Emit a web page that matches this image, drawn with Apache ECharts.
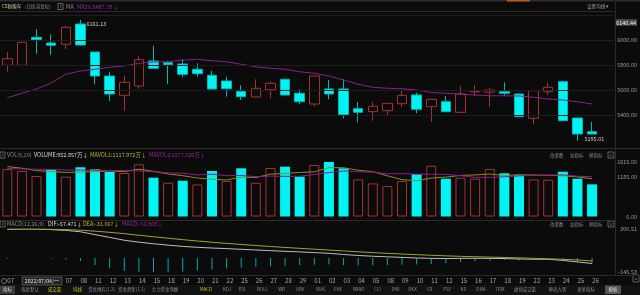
<!DOCTYPE html>
<html><head><meta charset="utf-8">
<script src="https://cdn.jsdelivr.net/npm/echarts@6/dist/echarts.min.js"></script>
<style>html,body{margin:0;padding:0;background:#0b0b0b;}#c{width:640px;height:295px;}</style>
</head><body><div id="c"></div>
<script>
// ---------- data ----------
const dates = ['2022-07-01','2022-07-04','2022-07-05','2022-07-06','2022-07-07','2022-07-08','2022-07-11','2022-07-12','2022-07-13','2022-07-14','2022-07-15','2022-07-18','2022-07-19','2022-07-20','2022-07-21','2022-07-22','2022-07-25','2022-07-26','2022-07-27','2022-07-28','2022-07-29',
'2022-08-01','2022-08-02','2022-08-03','2022-08-04','2022-08-05','2022-08-08','2022-08-09','2022-08-10','2022-08-11','2022-08-12','2022-08-15','2022-08-16','2022-08-17','2022-08-18','2022-08-19','2022-08-22','2022-08-23','2022-08-24','2022-08-25','2022-08-26'];
const opens  = [5797.6,5797.6,6021.6,5976,5965.6,6128,5904,5712,5557.6,5632,5832,5818.4,5808,5765.6,5717.6,5672,5589.6,5544,5602.4,5685.6,5573.6,5488,5608,5608,5450.4,5426.4,5434.4,5490.4,5560,5466.4,5506.4,5421.6,5586,5584,5586.4,5568,5373.6,5586.4,5666.4,5376,5266.4];
const closes = [5850,5981.6,6002.4,5957.6,6101.6,5960,5712,5568,5661.6,5842.4,5773.6,5802.4,5725.6,5730.4,5608,5610.4,5546.4,5613.6,5653.6,5560,5506.4,5712,5568,5402.4,5421.6,5469.6,5493.6,5557.6,5445.6,5525.6,5426.4,5568,5589.6,5600,5573.6,5386.4,5594.4,5621.6,5354.4,5248,5248];
const lows   = [5746,5795,5890,5882,5928,5954,5645.6,5512,5434,5610,5773.6,5648,5701.6,5706.4,5608,5546.4,5520,5538.4,5533.6,5554.4,5488,5469,5525.6,5373.6,5341.6,5354.4,5400,5464,5413.6,5346.4,5426.4,5421.6,5552,5466.4,5554.4,5386.4,5325.6,5560,5350,5195.01,5248];
const highs  = [5901.6,5985,6088,6045.6,6114,6161.13,5904,5746,5714,5874,5954,5834,5848,5813.6,5754,5706.4,5637.6,5685.6,5669.6,5693.6,5605.6,5712,5680,5685.6,5504,5504,5493.6,5594.4,5578.4,5525.6,5552,5632,5640,5613.6,5661.6,5568,5600,5658.4,5674,5376,5346.4];
const ma20   = [5538,5574,5608,5656,5726,5752,5766,5782,5792,5814,5824,5826,5838,5846,5834,5826,5806,5786,5774,5766,5746,5734,5712,5680,5646,5622,5614,5610,5600,5580,5574,5568,5560,5554,5554,5552,5542,5528,5520,5506,5487.78];
const volumes = [1407,1348,1200,1398,1180,1458,1398,1319,1289,1547,1150,1000,1060,950,1348,1050,1428,1000,1437,1476,1180,1526,1615,1428,1100,980,900,1050,1259,1505,1120,1150,1120,1407,1280,1228,1100,1090,1327,1120,952.857];
const volUp   = [1,1,1,0,1,0,0,0,1,1,0,1,0,1,0,1,0,1,1,0,0,1,0,0,1,1,1,1,0,1,0,1,1,1,0,0,1,1,0,0,0];
const mavol1  = [1480,1430,1360,1330,1307,1317,1327,1351,1329,1402,1341,1261,1209,1141,1102,1082,1167,1155,1253,1278,1304,1324,1447,1445,1370,1330,1205,1092,1058,1139,1167,1217,1231,1260,1215,1237,1227,1221,1205,1173,1117.972];
const mavol2  = [1420,1410,1400,1390,1380,1375,1370,1365,1360,1354,1329,1294,1280,1235,1252,1211,1214,1182,1197,1190,1193,1246,1301,1349,1324,1317,1264,1269,1251,1254,1248,1211,1161,1159,1177,1202,1222,1226,1233,1194,1177.526];
const dif  = [296,300.51,300,294,286,272,242,213,184,164,147.2,133,120,111,103,97,90,83,76,69,63,56,48,36,26,18,12,6,0,-4,-6,-4,-3,-4,-6,-11,-13,-13,-25,-41,-57.471];
const dea  = [300,300,300,298,294,288,278,266,252,236,220,205,190,176,163,151,140,129,119,109,100,91,82,73,64,56,48,41,34,28,22,17,13,9,5,1,-4,-9,-14,-21,-31.067];
const macd = [-8,0,0,-8,-16,-32,-72,-106,-136,-144,-145.53,-144,-140,-130,-120,-108,-100,-92,-86,-80,-74,-70,-68,-74,-76,-76,-72,-70,-68,-64,-56,-42,-32,-26,-22,-24,-18,-8,-22,-40,-52.808];
const priceTicks = [5400,5600,5800,6000];
const priceHighlight = 6140.44;
const priceGrid = [5400,5600,5800,6000,6200];
const volTicks = [0,1185,1615];
const macdTicks = [-145.53,300.51];
const tabs = ['指标','恢复默认','成交量','均线','资金博弈[1.2]','资金趋势[1.2]','主力资金净额','MACD','KDJ','RSI','BOLL','WR','OBV','BIAS','ENE','BRAR','CCI','DMI','DKX','CR','PSY','KD','DMA','TRIX','虚拟成交量','神奇九转','更多指标','模板'];
const tabOn = ['成交量','均线','MACD'];

// ---------- styles ----------
const F = '"Noto Sans CJK SC","Noto Sans",sans-serif';
const RED = '#a33333', CYAN = '#00f4f4', TEAL = '#00aaaa';
const YEL = '#bdb52a', MAG = '#a020a0', GRAY = '#8c8c8c';
const tabX = [7.5,30,54.5,77.5,101.5,131.5,165,206,227,242,262.5,281.5,300,321,338,358.5,377.5,395.5,412.5,429.5,447,463.5,481,500,525,557.5,586,613];

const cats = dates.concat(['']);
const candle = opens.map((o,i)=>[o, closes[i], lows[i], highs[i]]);
const volData = volumes.map((v,i)=>({value:v, itemStyle: volUp[i]
  ? {color:'rgba(0,0,0,0)', borderColor:RED, borderWidth:1}
  : {color:CYAN, borderWidth:0}}));

function txt(x,y,s,color,size,align){
  return {type:'text', x:x, y:y, z:100, style:{text:s, fill:color, font:(size||5.5)+'px '+F, textAlign:align||'left', textVerticalAlign:'middle'}};
}
function rect(x,y,w,h,fill,stroke){
  return {type:'rect', z:90, shape:{x:x,y:y,width:w,height:h}, style:{fill:fill||'none', stroke:stroke||null, lineWidth:0.8}};
}
function hline(y,x1,x2,c){return {type:'line', z:95, shape:{x1:x1,y1:y,x2:x2,y2:y}, style:{stroke:c||'#2a2a2a', lineWidth:1}};}
function qbox(x,y){return [rect(x,y-3,5,6,'none','#777'), txt(x+2.5,y,'?','#aaa',4.5,'center')];}
function rightTools(y){return [txt(550,y,'改参数',GRAY,4.5),txt(570,y,'加指标',GRAY,4.5),txt(589,y,'换指标',GRAY,4.5),rect(608,y-3,6,6,'none','#777'),txt(611,y,'×','#999',5,'center')];}

const graphics = [
  rect(0,0,640,1.5,'#2c2c2c'), rect(507,0,23,1.5,'#c0581c'),
  hline(11.5,0,615), hline(148.5,0,640), hline(220.5,0,615), hline(275.5,0,640),
  {type:'line', z:95, shape:{x1:615.5,y1:2,x2:615.5,y2:276}, style:{stroke:'#2a2a2a', lineWidth:1}},
  txt(2,6.5,'CS新能车','#e6dba2',4.6), txt(25,6.5,'(日线,前复权)',GRAY,4.3),
  ...qbox(58,6.5), txt(66,6.5,'MA',GRAY,5.5), txt(77,6.5,'MA20:5487.78 ↓',MAG,5.5),
  txt(587,6.5,'设置均线 ▾','#9a9a9a',4.6),
  ...qbox(0,155), txt(7,155,'VOL(5,10)',GRAY,5.5), txt(34,155,'VOLUME:952.857万↓','#dcdcdc',5.5),
  txt(90,155,'MAVOL1:1117.972万↓',YEL,5.5), txt(149,155,'MAVOL2:1177.526万↓',MAG,5.5),
  ...rightTools(155),
  ...qbox(0,224), txt(7,224,'MACD(12,26,9)',GRAY,5.5), txt(48,224,'DIF:-57.471↓','#dcdcdc',5.5),
  txt(83,224,'DEA:-31.067↓',YEL,5.5), txt(122,224,'MACD:-52.808↓',MAG,5.5),
  ...rightTools(224),
  rect(0,285,640,10,'#121212'),
  {type:'circle', z:95, shape:{cx:4,cy:281,r:2.5}, style:{fill:'none', stroke:'#888', lineWidth:0.8}},
  rect(22,277,40,8,'#262626','#5a5a5a'), txt(42,281,'2022/07/04/一','#e0e0e0',5.2,'center'),
  rect(0,285.5,15,8.5,'#3c3c3c'), rect(605,285.5,16,8.5,'#555555'),
  rect(633,275,6,7,'none','#777'), txt(636,278.5,'»','#aaa',5,'center')
];
tabs.forEach((t,i)=>{ graphics.push(txt(tabX[i],289.5,t, tabOn.includes(t)?'#d7c61c':(t==='指标'||t==='模板'?'#ddd':GRAY),4.4,'center')); });

const yLab = {fontSize:5.5, fontFamily:F, color:'#9a9a9a', align:'right', margin:23};
const hidden = {show:false};

const option = {
  backgroundColor:'#0b0b0b',
  animation:false,
  grid:[
    {left:-1, right:25, top:14, height:133},
    {left:-1, right:25, top:158, height:58.5},
    {left:-1, right:25, top:229, height:43}
  ],
  xAxis:[0,1,2].map(g=>({
    type:'category', gridIndex:g, data:cats, boundaryGap:true,
    axisLine:hidden, axisTick:hidden, splitLine:hidden,
    axisLabel: g<2 ? hidden : {show:true, interval:0, align:'left', margin:6, fontSize:6, fontFamily:F, color:'#a8a8a8',
      formatter:(v,i)=> i===0 ? v.slice(5,7) : (i<4 || !v) ? '' : v.slice(8)}
  })),
  yAxis:[
    {type:'value', gridIndex:0, position:'right', min:5144, max:6208, axisLine:hidden, axisTick:hidden, splitLine:hidden,
     axisLabel:Object.assign({}, yLab, {customValues: priceTicks.concat([priceHighlight]),
       formatter:v=> Math.abs(v-priceHighlight)<0.001 ? '{hl|'+v.toFixed(2)+'}' : v.toFixed(2),
       rich:{hl:{backgroundColor:'#4a4a4a', color:'#e8e8e8', fontSize:5.5, fontFamily:F, padding:[1,1,0,1]}}})},
    {type:'value', gridIndex:1, position:'right', min:0, max:1733.5, axisLine:hidden, axisTick:hidden, splitLine:hidden,
     axisLabel:Object.assign({}, yLab, {customValues: volTicks, formatter:v=>v.toFixed(2)})},
    {type:'value', gridIndex:2, position:'right', min:-145.53, max:300.51, axisLine:hidden, axisTick:hidden, splitLine:hidden,
     axisLabel:Object.assign({}, yLab, {customValues: macdTicks, formatter:v=>v.toFixed(2)})}
  ],
  series:[
    {type:'candlestick', xAxisIndex:0, yAxisIndex:0, data:candle, barWidth:10,
     itemStyle:{color:'rgba(0,0,0,0)', color0:CYAN, borderColor:RED, borderColor0:'#00b8b8', borderWidth:1},
     markLine:{silent:true, symbol:'none', label:hidden, animation:false,
       lineStyle:{color:'#1d1d1d', type:'solid', width:1},
       data: priceGrid.map(v=>({yAxis:v}))},
     markPoint:{symbol:'circle', symbolSize:0, animation:false,
       label:{show:true, position:'right', color:'#d0d0d0', fontSize:5.5, fontFamily:F, formatter:p=>p.value.toFixed(2)},
       data:[
         {coord:[5, highs[5]], value:highs[5], label:{distance:6, offset:[0,4]}},
         {coord:[39, lows[39]], value:lows[39], label:{distance:7, offset:[0,-1.5]}}
       ]}
    },
    {type:'line', xAxisIndex:0, yAxisIndex:0, data:ma20, symbol:'none', lineStyle:{color:'#8a1e8a', width:1}, z:3},
    {type:'bar', xAxisIndex:1, yAxisIndex:1, data:volData, barWidth:10},
    {type:'line', xAxisIndex:1, yAxisIndex:1, data:mavol1, symbol:'none', lineStyle:{color:'#8f8a1e', width:1}},
    {type:'line', xAxisIndex:1, yAxisIndex:1, data:mavol2, symbol:'none', lineStyle:{color:'#8a1e8a', width:1}},
    {type:'bar', xAxisIndex:2, yAxisIndex:2, data:macd, barWidth:1, itemStyle:{color:TEAL}},
    {type:'line', xAxisIndex:2, yAxisIndex:2, data:dif, symbol:'none', lineStyle:{color:'#bdbdbd', width:1}},
    {type:'line', xAxisIndex:2, yAxisIndex:2, data:dea, symbol:'none', lineStyle:{color:'#a8a228', width:1}}
  ],
  graphic: graphics
};
const chart = echarts.init(document.getElementById('c'));
chart.setOption(option);
</script>
</body></html>
